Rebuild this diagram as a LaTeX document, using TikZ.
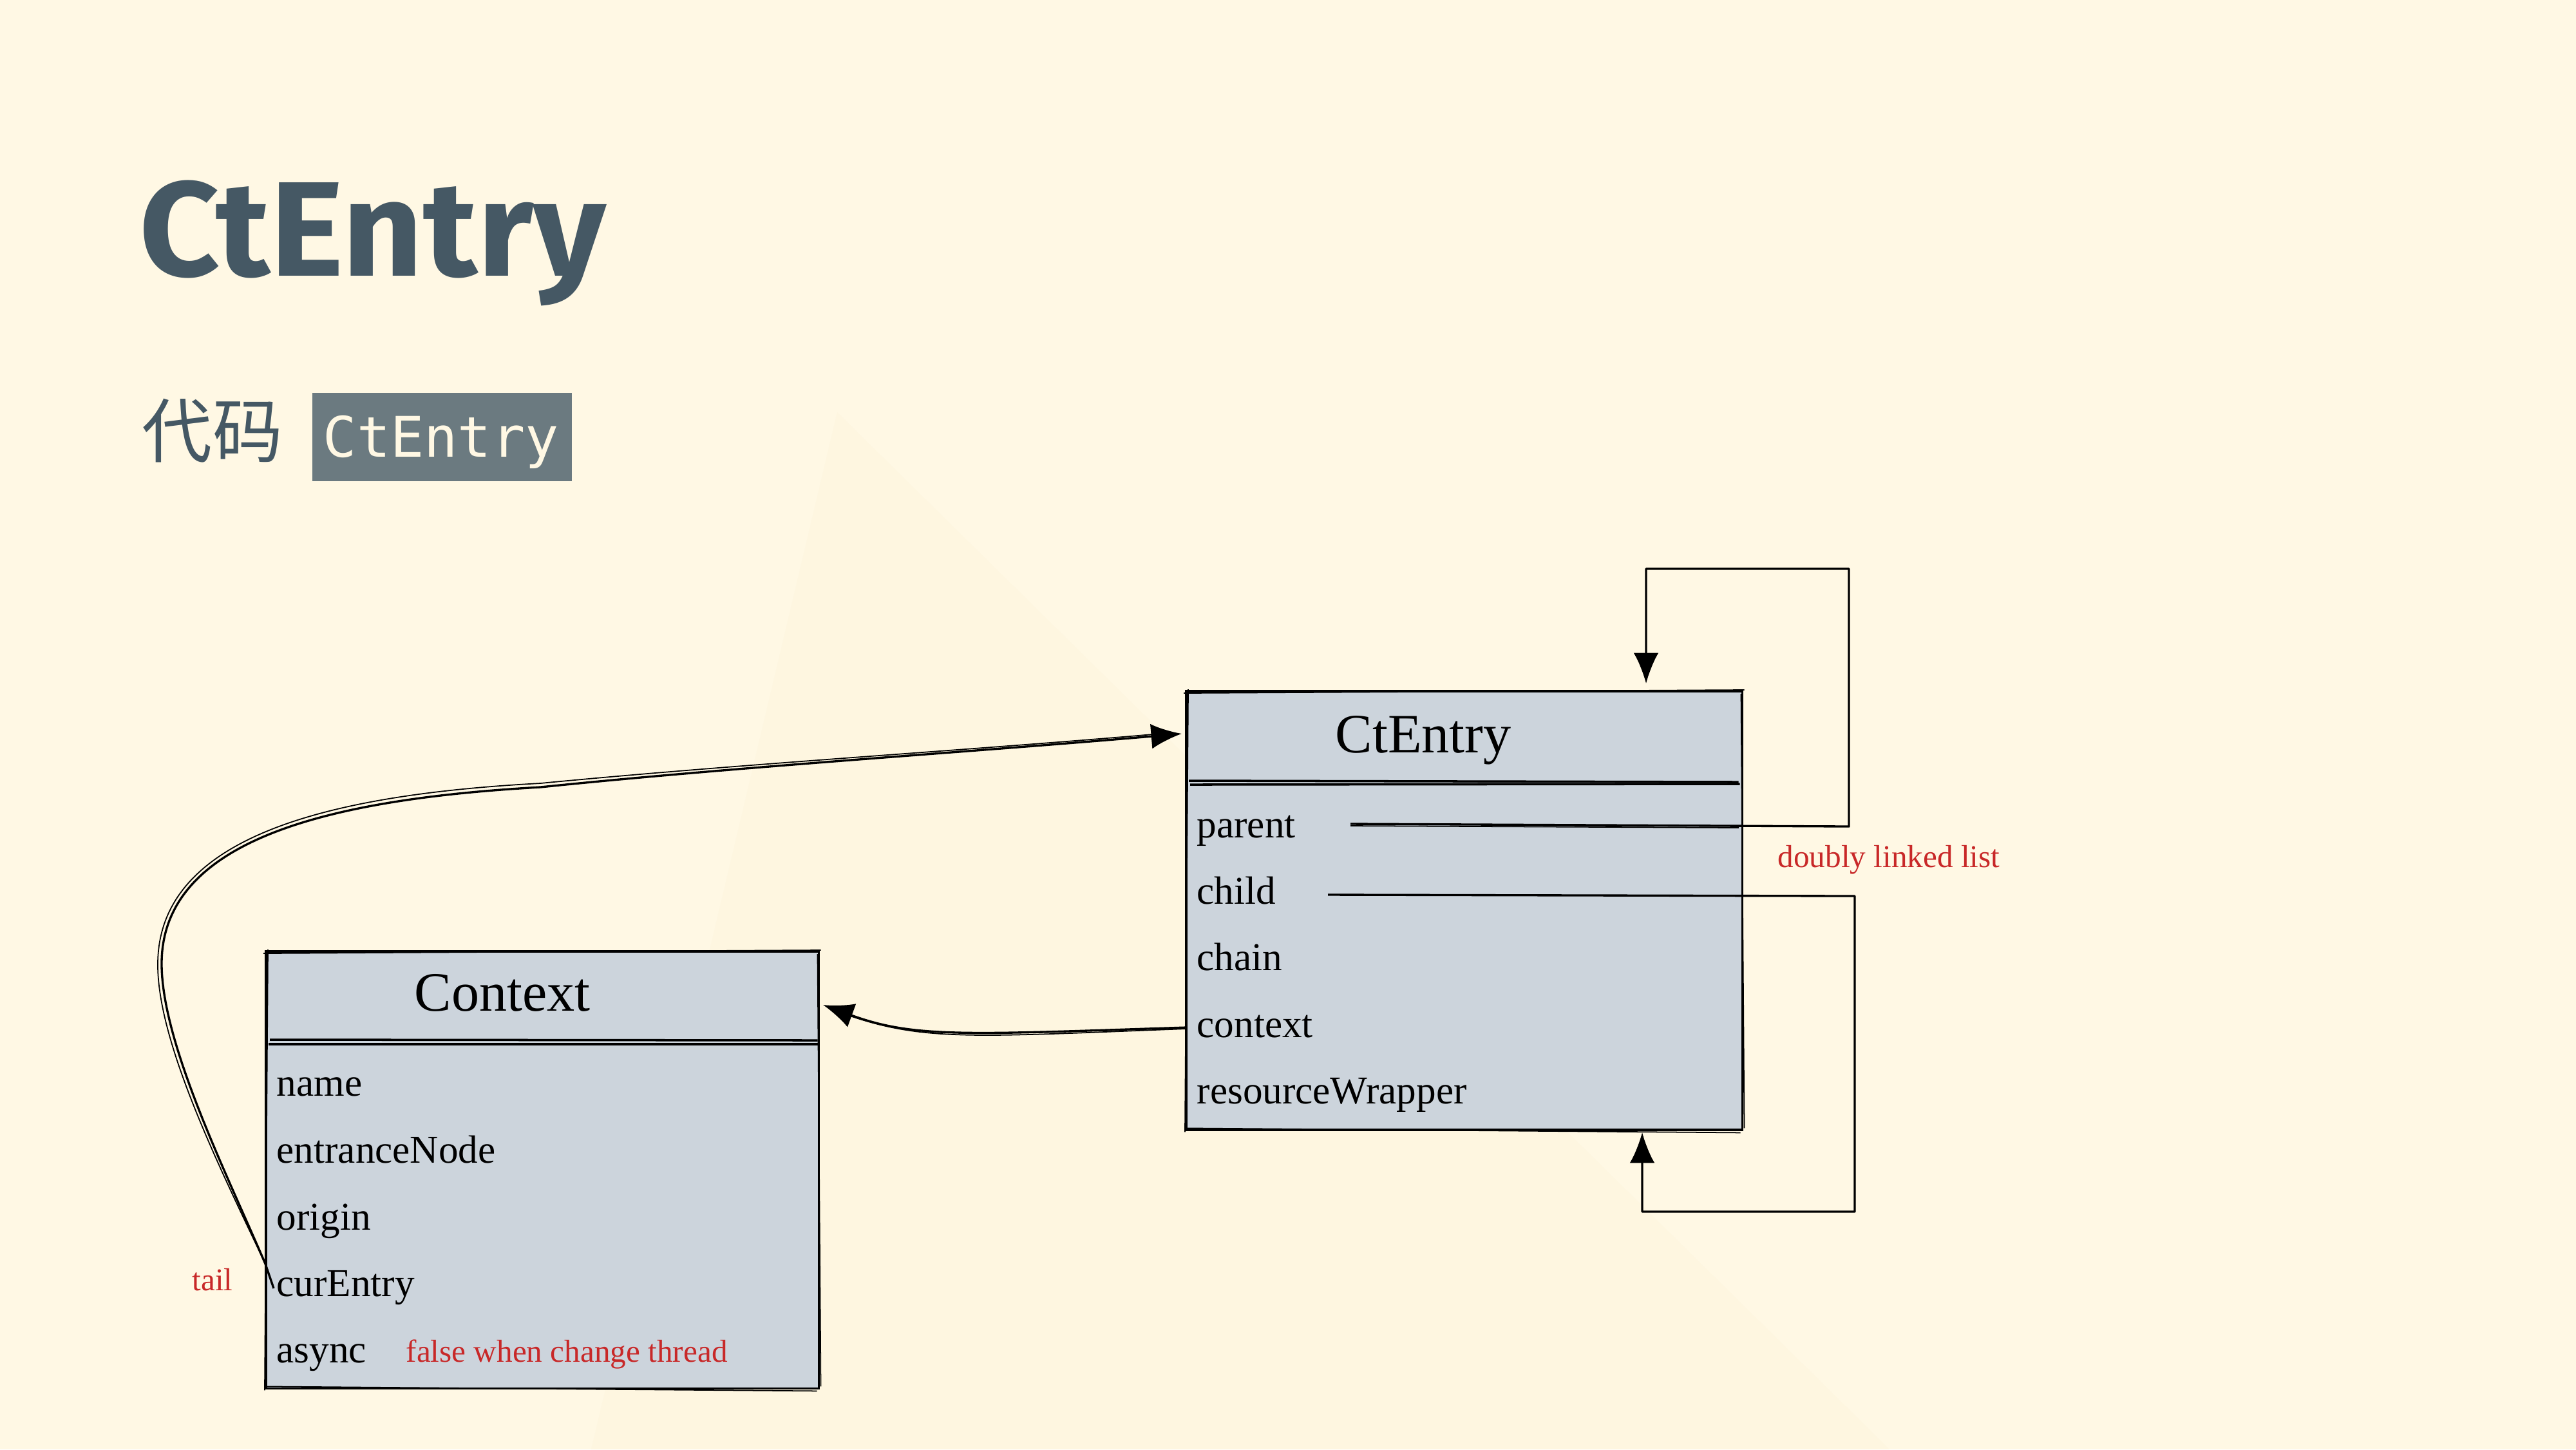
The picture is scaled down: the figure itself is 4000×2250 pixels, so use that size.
\documentclass[tikz,border=0pt]{standalone}
\usepackage{fontspec}
\setmainfont{Liberation Serif}
\newfontfamily\titlefont[FakeStretch=1.04]{Fira Sans}
\newfontfamily\cjkfont{Noto Sans CJK SC}
\newfontfamily\codefont{DejaVu Sans Mono}
\usetikzlibrary{arrows.meta,calc}
\definecolor{bg}{RGB}{255,248,228}
\definecolor{bgshade}{RGB}{254,246,224}
\definecolor{slate}{RGB}{69,88,100}
\definecolor{codebg}{RGB}{107,122,128}
\definecolor{codefg}{RGB}{255,248,228}
\definecolor{boxfill}{RGB}{204,212,220}
\definecolor{note}{RGB}{200,40,40}
\tikzset{
  umlbox/.style={draw=black, fill=boxfill, line width=1.1pt, inner sep=0pt, outer sep=0pt},
  sketchline/.style={draw=black, line width=0.5pt},
  sepline/.style={draw=black, line width=1pt},
  boxtitle/.style={inner sep=0pt, anchor=base, font=\fontsize{24.5}{25}\selectfont},
  field/.style={inner sep=0pt, anchor=base west, font=\fontsize{17.4}{18}\selectfont},
  notetext/.style={inner sep=0pt, anchor=base west, text=note, font=\fontsize{14}{15}\selectfont},
  conn/.style={draw=black, line width=0.95pt, line join=round},
  tip/.style={-{Latex[length=13.5pt,width=11pt]}},
}
\newcommand{\sketchbox}[1]{%
  \draw[sketchline] ($(#1.north west)+(-4,3)$) -- ($(#1.north east)+(3,-2)$);
  \draw[sketchline] ($(#1.south west)+(2,-3)$) -- ($(#1.south east)+(-3,4)$);
  \draw[sketchline] ($(#1.north west)+(3,-3)$) -- ($(#1.south west)+(-2,3)$);
  \draw[sketchline] ($(#1.north east)+(-2,4)$) -- ($(#1.south east)+(3,-3)$);
}
\begin{document}
\begin{tikzpicture}[x=0.01cm,y=-0.01cm]
% background
\fill[bg] (0,0) rectangle (4000,2250);
\useasboundingbox (0,0) rectangle (4000,2250);
\fill[bgshade] (1300,640) -- (2934,2250) -- (918,2250) -- cycle;

% heading
\node[anchor=base west, inner sep=0pt, text=slate,
      font=\titlefont\bfseries\fontsize{59.5}{60}\selectfont] (title) at (216,428) {CtEntry};
\node[anchor=center, inner sep=0pt, text=slate,
      font=\cjkfont\fontsize{31}{31}\selectfont] (sub) at (330,669) {代码};
\node[anchor=north west, fill=codebg, inner sep=0pt, minimum width=4.03cm, minimum height=1.37cm] (codebox) at (484,609) {};
\node[anchor=base west, inner sep=0pt, text=codefg,
      font=\codefont\fontsize{24.7}{25}\selectfont] (codetxt) at (501,709) {CtEntry};

% CtEntry box
\node[umlbox, anchor=north west, minimum width=8.63cm, minimum height=6.81cm] (ce) at (1842,1073) {};
\sketchbox{ce}
\draw[sepline] ($(ce.north west)+(4,139)$) -- ($(ce.north east)+(-6,141)$);
\draw[sepline] ($(ce.north west)+(6,145)$) -- ($(ce.north east)+(-4,144)$);
\node[boxtitle] (cetitle) at (2210,1168) {CtEntry};
\node[field] (fparent) at (1858,1300) {parent};
\node[field] (fchild)  at (1858,1403) {child};
\node[field] (fchain)  at (1858,1506) {chain};
\node[field] (fctx)    at (1858,1610) {context};
\node[field] (fres)    at (1858,1713) {resourceWrapper};

% Context box
\node[umlbox, anchor=north west, minimum width=8.58cm, minimum height=6.78cm] (cx) at (413,1477) {};
\sketchbox{cx}
\draw[sepline] ($(cx.north west)+(6,137)$) -- ($(cx.north east)+(-2,138)$);
\draw[sepline] ($(cx.north west)+(4,144)$) -- ($(cx.north east)+(-1,144)$);
\node[boxtitle] (cxtitle) at (780,1569) {Context};
\node[field] (fname)  at (429,1701) {name};
\node[field] (fentry) at (429,1805) {entranceNode};
\node[field] (forig)  at (429,1909) {origin};
\node[field] (fcur)   at (429,2012) {curEntry};
\node[field] (fasync) at (429,2115) {async};

% notes
\node[notetext] (nasync) at (630,2114) {false when change thread};
\node[notetext] (nlist)  at (2760,1346) {doubly linked list};
\node[notetext] (ntail)  at (298,2003) {tail};

% parent loop
\coordinate (pstart) at (2097,1279);
\coordinate (pr)  at (2871,1283);
\coordinate (prt) at (2871,883);
\coordinate (plt) at (2556,883);
\draw[conn, tip, shorten >=3.4pt] (pstart) -- (pr) -- (prt) -- (plt) -- (plt |- ce.north);
\draw[sketchline] (2097,1282) -- (2700,1285);

% child loop
\coordinate (cstart) at (2062,1389);
\coordinate (cr)  at (2880,1391);
\coordinate (crb) at (2880,1881);
\coordinate (clb) at (2550,1881);
\draw[conn, tip, shorten >=1pt] (cstart) -- (cr) -- (crb) -- (clb) -- (clb |- ce.south);

% context -> Context
\coordinate (xs) at (1843,1595);
\coordinate (xe) at (1278,1560);
\draw[conn, tip] (xs) .. controls (1500,1606) and (1420,1612) .. (xe);
\draw[sketchline] (1843,1597) .. controls (1500,1610) and (1430,1618) .. (1300,1570);

% curEntry -> CtEntry
\coordinate (ts) at (425,2000);
\coordinate (tb) at (412,1962);
\coordinate (tl) at (251,1496);
\coordinate (tm) at (839,1222);
\coordinate (tt) at (1835,1139);
\draw[conn, tip] (ts) -- (tb) .. controls (352,1822) and (251,1620) .. (tl)
   .. controls (251,1300) and (520,1240) .. (tm)
   .. controls (1150,1190) and (1500,1168) .. (tt);
\draw[sketchline] (tb) .. controls (346,1822) and (244,1620) .. (245,1496)
   .. controls (246,1295) and (520,1233) .. (839,1216)
   .. controls (1150,1186) and (1500,1165) .. (1790,1140);
\end{tikzpicture}
\end{document}
